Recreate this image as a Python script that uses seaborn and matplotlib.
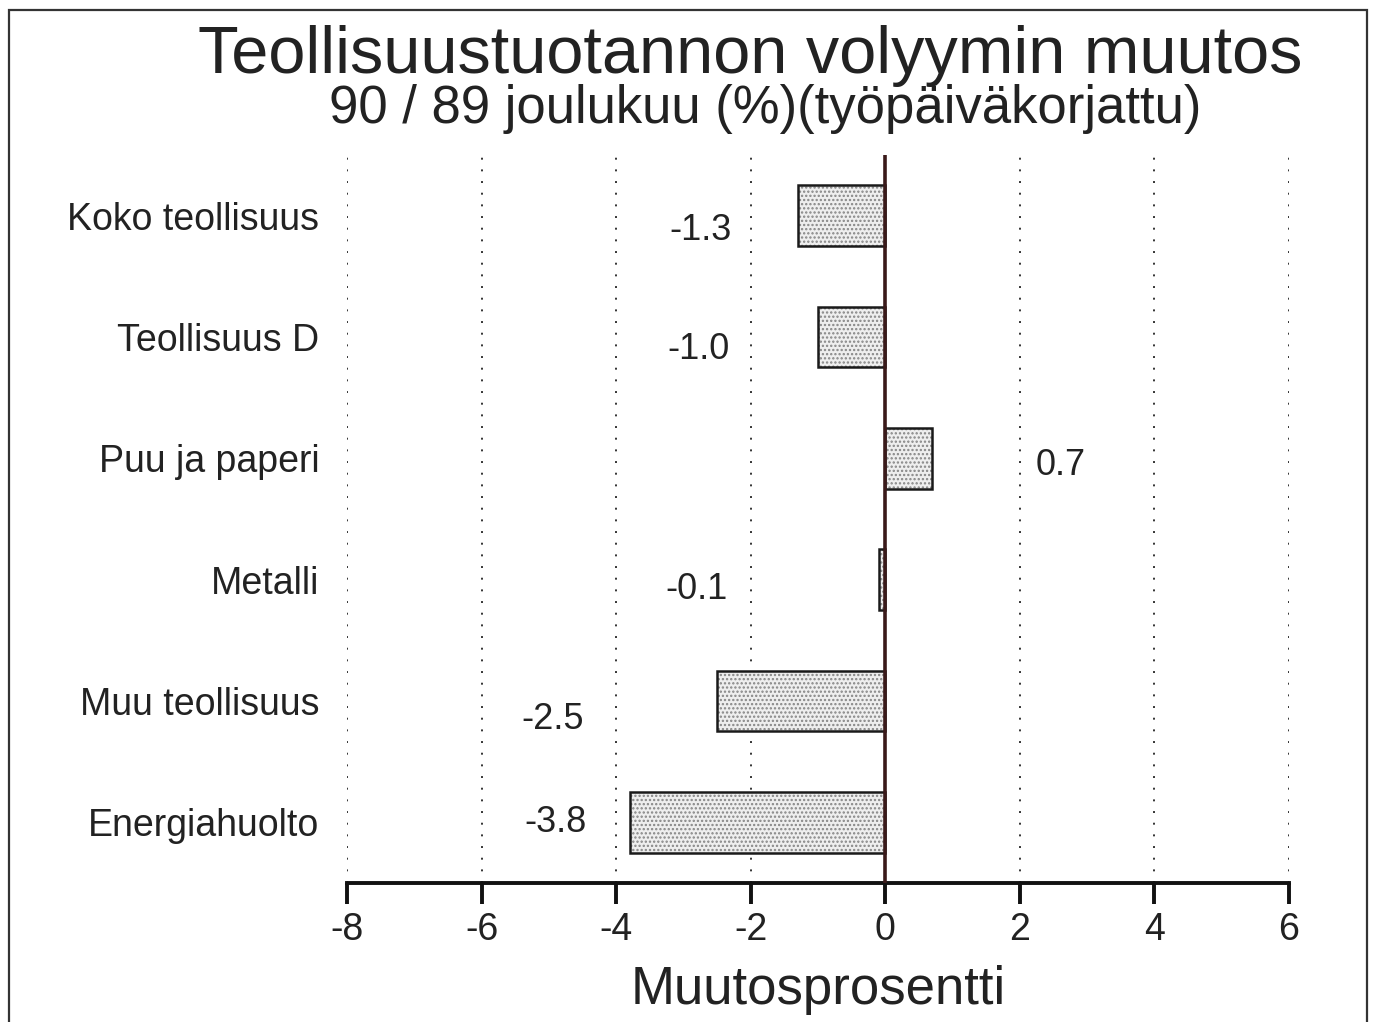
import matplotlib
matplotlib.use("Agg")
import matplotlib.pyplot as plt
import seaborn as sns
import pandas as pd

# Data
categories = ["Koko teollisuus", "Teollisuus D", "Puu ja paperi",
              "Metalli", "Muu teollisuus", "Energiahuolto"]
values = [-1.3, -1.0, 0.7, -0.1, -2.5, -3.8]
value_labels = ["-1.3", "-1.0", "0.7", "-0.1", "-2.5", "-3.8"]
x_ticks = [-8, -6, -4, -2, 0, 2, 4, 6]

df = pd.DataFrame({"kategoria": categories, "muutos": values})

sns.set_theme(style="white")
plt.rcParams["font.family"] = ["Liberation Sans", "DejaVu Sans"]
plt.rcParams["hatch.linewidth"] = 1.1

fig = plt.figure(figsize=(13.76, 10.22), dpi=100)
ax = fig.add_axes([0.2522, 0.136, 0.6846, 0.7123])

# dotted grid lines behind bars
for t in x_ticks:
    ax.axvline(t, color="#333333", linestyle=(0, (1, 5)), linewidth=1.4, zorder=0)

# hatched fill
sns.barplot(data=df, y="kategoria", x="muutos", orient="h", ax=ax,
            color="#eeeeee", edgecolor="#858585", linewidth=0, width=0.5,
            hatch="....", zorder=2)
# outline
sns.barplot(data=df, y="kategoria", x="muutos", orient="h", ax=ax,
            fill=False, edgecolor="#1a1a1a", linewidth=1.8, width=0.5, zorder=3)

ax.axvline(0, color="#3a1a1a", linewidth=2.6, zorder=4)

# value labels
label_x = [-2.75, -2.78, 2.6, -2.8, -4.95, -4.9]
label_dy = [0.12, 0.1, 0.06, 0.08, 0.15, 0.0]
for i, (lx, lab) in enumerate(zip(label_x, value_labels)):
    ax.text(lx, i + label_dy[i], lab, ha="center", va="center",
            fontsize=26, color="#222222")

ax.set_xlim(-8, 6)
ax.set_ylim(5.5, -0.5)
ax.set_xticks(x_ticks)
ax.set_xticklabels([str(t) for t in x_ticks], fontsize=27, color="#222222")
ax.tick_params(axis="x", bottom=True, direction="out", length=15, width=2.8,
               color="#111111", pad=6)
ax.tick_params(axis="y", left=False, length=0, pad=20, labelsize=27, labelcolor="#222222")
ax.set_ylabel("")
ax.set_xlabel("Muutosprosentti", fontsize=38, color="#222222")
ax.xaxis.set_label_coords(0.5, -0.112)

for s in ["left", "right", "top"]:
    ax.spines[s].set_visible(False)
ax.spines["bottom"].set_linewidth(2.8)
ax.spines["bottom"].set_color("#111111")

fig.text(0.545, 0.945, "Teollisuustuotannon volyymin muutos",
         ha="center", va="center", fontsize=48, color="#222222")
fig.text(0.556, 0.893, "90 / 89 joulukuu (%)(työpäiväkorjattu)",
         ha="center", va="center", fontsize=38, color="#222222")

# frame around the figure
frame = plt.Rectangle((0.0065, -0.05), 0.987, 1.04, transform=fig.transFigure,
                      fill=False, edgecolor="#333333", linewidth=1.6, clip_on=False)
fig.patches.append(frame)

fig.savefig("out.png", dpi=100, facecolor="white")
